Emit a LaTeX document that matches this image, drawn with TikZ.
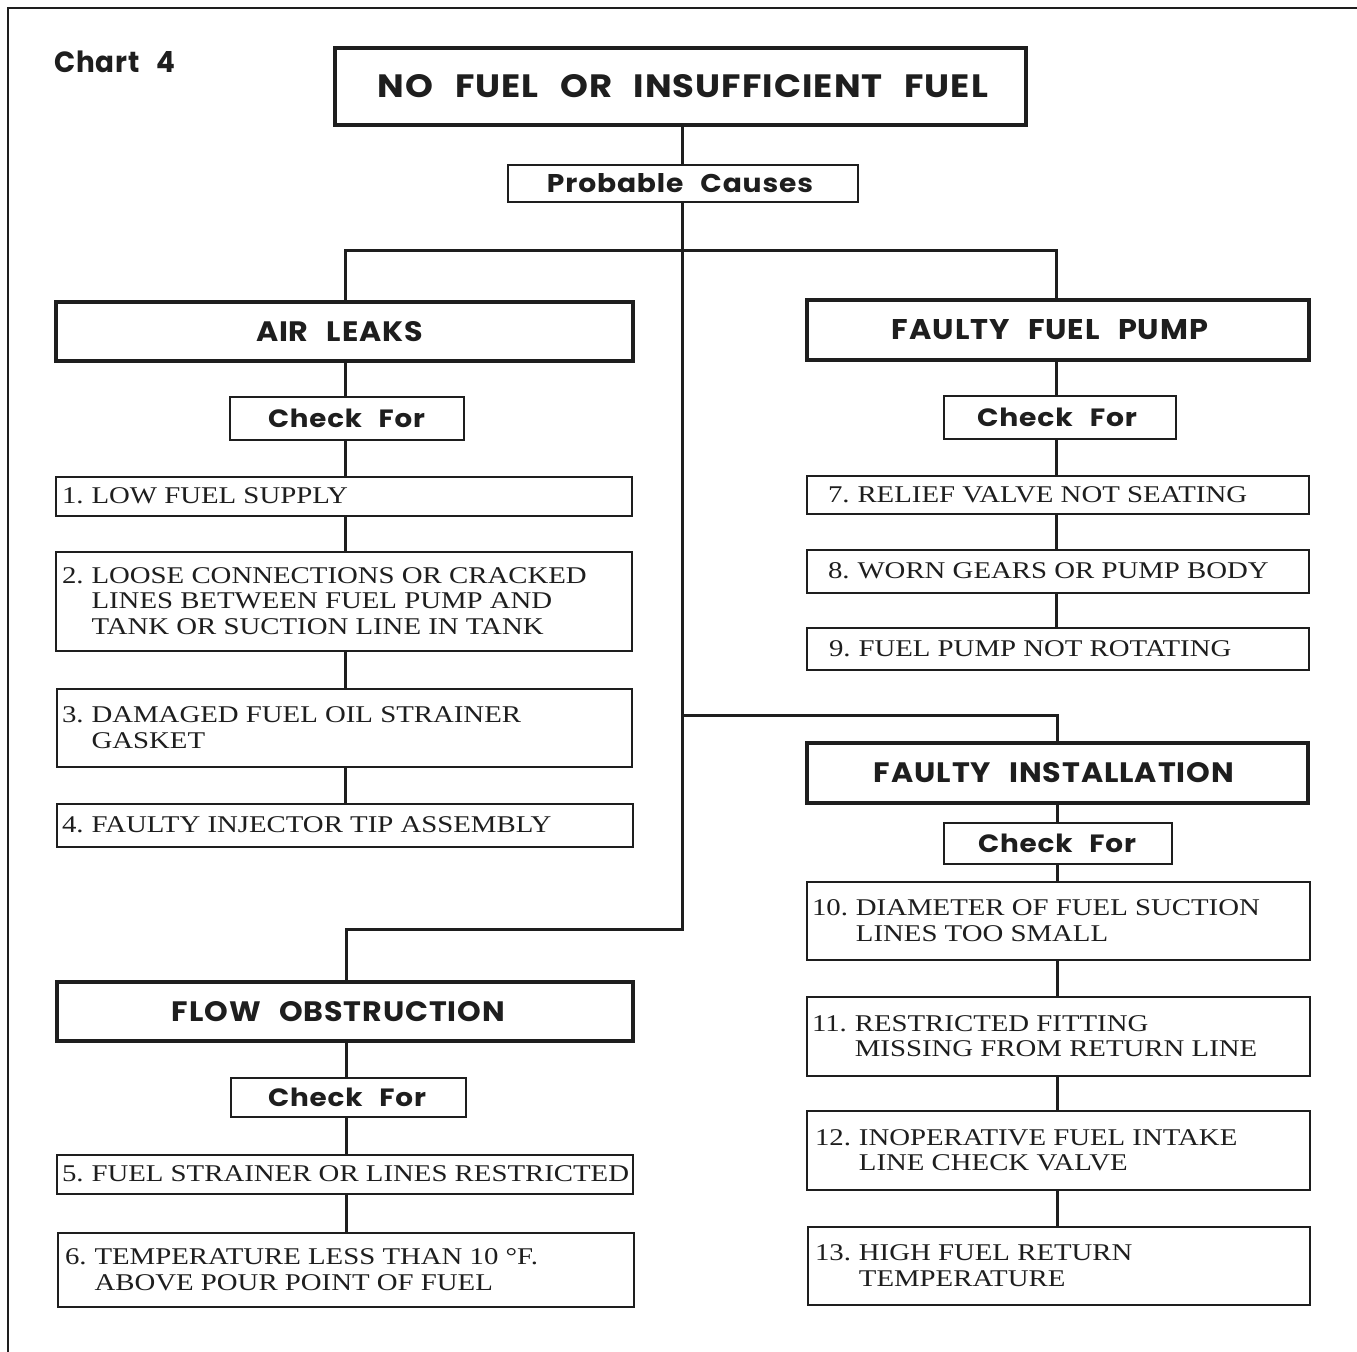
\documentclass[tikz,border=0pt]{standalone}
\usepackage{fontspec}
\usepackage{graphicx}
\newfontfamily\hdfont{Poppins}[WordSpace=2.5, LetterSpace=3]
\newfontfamily\itfont{Liberation Serif}[FakeStretch=1.2]
\definecolor{ink}{HTML}{1E1E1E}
% heading text: width(pt), height(pt), left shift(pt), text
\newcommand\hdtext[4]{\hspace*{-#3pt}\resizebox{#1pt}{#2pt}{\hdfont\bfseries #4}\hspace*{#3pt}}
% item text: number, lines (column 2 after &)
\newcommand\itm[2]{\raisebox{-1.2pt}[\height][\depth]{\itfont\fontsize{12pt}{12.75pt}\selectfont\begin{tabular}{@{}l@{}l@{}}#1\kern0.33em&#2\end{tabular}}}
% box node: style, name, x1, y1, x2, y2, content
\newcommand\bx[7]{%
  \pgfmathsetmacro\bw{(#5-#3)/2}%
  \pgfmathsetmacro\bh{(#6-#4)/2}%
  \node[#1, minimum width=\bw pt, minimum height=\bh pt] (#2) at ({(#3+#5)/2},{(#4+#6)/2}) {#7};}
% item box: name, x1, y1, x2, y2, text x, content
\newcommand\ibx[7]{%
  \pgfmathsetmacro\bw{(#4-#2)/2}%
  \pgfmathsetmacro\bh{(#5-#3)/2}%
  \pgfmathsetmacro\pd{(#6-#2)/2}%
  \node[itembox, minimum width=\bw pt, minimum height=\bh pt] (#1) at ({(#2+#4)/2},{(#3+#5)/2}) {\makebox[\bw pt][l]{\hspace*{\pd pt}#7}};}
\tikzset{
  titlebox/.style={draw=ink, line width=1.8pt, inner sep=0pt, text=ink},
  headbox/.style={draw=ink, line width=1.6pt, inner sep=0pt, text=ink},
  checkbox/.style={draw=ink, line width=1.2pt, inner sep=0pt, text=ink},
  itembox/.style={draw=ink, line width=1pt, inner sep=0pt, text=ink},
  conn/.style={draw=ink, line width=1.5pt},
  frame/.style={draw=ink, line width=1.3pt}
}
\begin{document}
\begin{tikzpicture}[x=0.5pt, y=-0.5pt]
\useasboundingbox (0,0) rectangle (1357,1352);
\fill[white] (0,0) rectangle (1357,1352);
% outer frame
\draw[frame] (8,1352) -- (8,8) -- (1357,8);

\node[anchor=west, inner sep=0pt, text=ink] (chart) at (54,62) {\resizebox{60.5pt}{10.8pt}{\hdfont\bfseries Chart 4}};

\bx{titlebox}{title}{335}{48}{1026}{125}{\hdtext{305}{11.5}{-1.25}{NO FUEL OR INSUFFICIENT FUEL}}
\bx{checkbox}{causes}{508}{165}{858}{202}{\hdtext{133}{9.5}{1.5}{Probable Causes}}

% section headings
\bx{headbox}{air}{56}{302}{633}{361}{\hdtext{83.5}{10}{2.5}{AIR LEAKS}}
\bx{headbox}{pump}{807}{300}{1309}{360}{\hdtext{158}{10}{4}{FAULTY FUEL PUMP}}
\bx{headbox}{inst}{807}{743}{1308}{803}{\hdtext{180}{10}{1.75}{FAULTY INSTALLATION}}
\bx{headbox}{flow}{57}{982}{633}{1041}{\hdtext{166.5}{10}{3.25}{FLOW OBSTRUCTION}}

% check for
\bx{checkbox}{ck1}{230}{397}{464}{440}{\hdtext{78.5}{9.25}{0.25}{Check For}}
\bx{checkbox}{ck2}{944}{396}{1176}{439}{\hdtext{80}{9.25}{1.5}{Check For}}
\bx{checkbox}{ck3}{944}{823}{1172}{864}{\hdtext{79}{9.25}{0.5}{Check For}}
\bx{checkbox}{ck4}{231}{1078}{466}{1117}{\hdtext{79}{9.25}{0.75}{Check For}}

% items left
\ibx{i1}{56}{477}{632}{516}{62}{\itm{1.}{LOW FUEL SUPPLY}}
\ibx{i2}{56}{552}{632}{651}{62}{\itm{2.}{LOOSE CONNECTIONS OR CRACKED\\&LINES BETWEEN FUEL PUMP AND\\&TANK OR SUCTION LINE IN TANK}}
\ibx{i3}{57}{689}{632}{767}{62}{\itm{3.}{DAMAGED FUEL OIL STRAINER\\&GASKET}}
\ibx{i4}{57}{804}{633}{847}{62}{\itm{4.}{FAULTY INJECTOR TIP ASSEMBLY}}
\ibx{i5}{57}{1155}{633}{1194}{62}{\itm{5.}{FUEL STRAINER OR LINES RESTRICTED}}
\ibx{i6}{58}{1233}{634}{1307}{65}{\itm{6.}{TEMPERATURE LESS THAN 10 °F.\\&ABOVE POUR POINT OF FUEL}}

% items right
\ibx{i7}{807}{476}{1309}{514}{828}{\itm{7.}{RELIEF VALVE NOT SEATING}}
\ibx{i8}{807}{550}{1309}{593}{828}{\itm{8.}{WORN GEARS OR PUMP BODY}}
\ibx{i9}{807}{628}{1309}{670}{829}{\itm{9.}{FUEL PUMP NOT ROTATING}}
\ibx{i10}{807}{882}{1310}{960}{812}{\itm{10.}{DIAMETER OF FUEL SUCTION\\&LINES TOO SMALL}}
\ibx{i11}{807}{997}{1310}{1076}{812}{\itm{11.}{RESTRICTED FITTING\\&MISSING FROM RETURN LINE}}
\ibx{i12}{807}{1111}{1310}{1190}{815}{\itm{12.}{INOPERATIVE FUEL INTAKE\\&LINE CHECK VALVE}}
\ibx{i13}{808}{1227}{1310}{1305}{815}{\itm{13.}{HIGH FUEL RETURN\\&TEMPERATURE}}

% connector guide coordinates
\coordinate (tk) at (682,0);
\coordinate (xL) at (345,0);
\coordinate (xP) at (1056,0);
\coordinate (xI) at (1057,0);
\coordinate (xF) at (346,0);
\coordinate (jA) at (682,251);
\coordinate (jB) at (682,716);
\coordinate (jC) at (682,930);

% trunk and branches
\draw[conn] (title.south -| tk) -- (causes.north -| tk);
\draw[conn] (causes.south -| tk) -- (jC) -| (flow.north -| xF);
\draw[conn] (air.north -| xL) |- (jA) -| (pump.north -| xP);
\draw[conn] (jB) -| (inst.north -| xI);

% chains
\foreach \a/\b/\x in {air/ck1/xL, ck1/i1/xL, i1/i2/xL, i2/i3/xL, i3/i4/xL,
                      pump/ck2/xP, ck2/i7/xP, i7/i8/xP, i8/i9/xP,
                      inst/ck3/xI, ck3/i10/xI, i10/i11/xI, i11/i12/xI, i12/i13/xI,
                      flow/ck4/xF, ck4/i5/xF, i5/i6/xF}
  \draw[conn] (\a.south -| \x) -- (\b.north -| \x);
\end{tikzpicture}
\end{document}
